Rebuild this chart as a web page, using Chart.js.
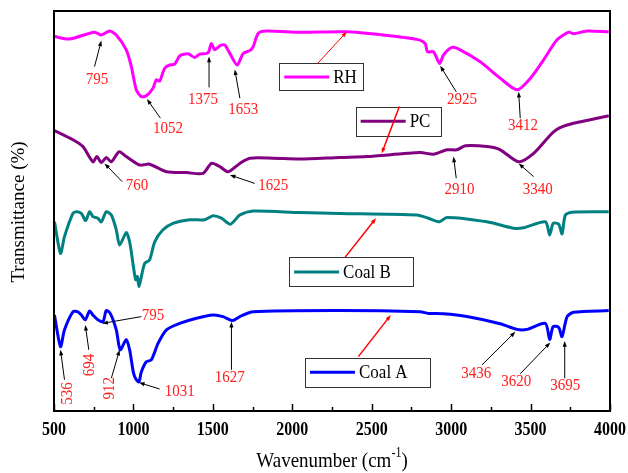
<!DOCTYPE html>
<html>
<head>
<meta charset="utf-8">
<script src="https://cdn.jsdelivr.net/npm/chart.js@4/dist/chart.umd.min.js"></script>
<style>
  html, body { margin: 0; padding: 0; background: #fff; }
  canvas { display: block; }
</style>
</head>
<body>
<canvas id="ftir" width="628" height="473"></canvas>
<script>
// FTIR spectra, wavenumber (cm-1) vs. transmittance (offset, arbitrary %)
const rhWave = [503, 598, 755, 798, 850, 892, 955, 987, 1018, 1050, 1081, 1123, 1144, 1165, 1197, 1228, 1260, 1292, 1344, 1386, 1418, 1460, 1474, 1491, 1512, 1544, 1575, 1607, 1653, 1691, 1733, 1754, 1785, 1838, 2048, 2343, 2573, 2784, 2836, 2851, 2889, 2927, 2952, 3005, 3057, 3183, 3309, 3415, 3499, 3582, 3667, 3740, 3772, 3856, 3992];
const rhT    = [93.6, 93.0, 94.7, 94.0, 95.0, 94.0, 90.3, 86.1, 80.3, 78.6, 78.8, 80.7, 82.8, 82.5, 85.7, 86.5, 86.7, 88.8, 89.3, 88.4, 89.2, 89.4, 89.8, 91.9, 90.3, 91.3, 91.5, 89.4, 86.5, 89.4, 90.1, 91.1, 94.4, 95.0, 94.7, 94.8, 94.0, 92.9, 91.9, 89.8, 89.8, 86.9, 89.0, 90.9, 90.3, 87.3, 83.2, 80.3, 83.2, 87.8, 92.8, 94.7, 94.3, 95.0, 94.8];

const pcWave = [503, 619, 682, 745, 770, 798, 829, 861, 909, 955, 1039, 1102, 1208, 1334, 1438, 1491, 1544, 1596, 1670, 1733, 1880, 2048, 2300, 2469, 2805, 2889, 2973, 3036, 3089, 3225, 3309, 3425, 3519, 3645, 3730, 3992];
const pcT    = [70.1, 67.8, 66.1, 62.3, 63.6, 62.1, 63.4, 62.3, 64.8, 63.6, 61.5, 61.7, 59.8, 59.6, 59.4, 61.9, 61.1, 59.8, 61.9, 63.2, 63.2, 63.0, 63.4, 63.6, 64.6, 64.2, 65.3, 65.3, 66.3, 66.1, 65.3, 62.3, 64.4, 69.8, 71.5, 73.8];

const coalBWave = [503, 541, 566, 619, 640, 672, 699, 724, 745, 776, 798, 829, 861, 892, 913, 955, 976, 997, 1014, 1025, 1035, 1050, 1071, 1102, 1134, 1186, 1249, 1354, 1449, 1501, 1554, 1611, 1670, 1754, 2048, 2300, 2784, 2857, 2927, 2973, 3225, 3393, 3456, 3593, 3620, 3642, 3677, 3698, 3719, 3761, 3992];
const coalBT    = [47.3, 39.4, 43.6, 49.4, 49.8, 49.4, 47.6, 49.8, 48.6, 48.2, 47.3, 49.8, 49.0, 45.3, 41.5, 44.6, 42.3, 36.9, 32.8, 33.6, 31.1, 33.6, 36.9, 37.8, 42.3, 45.3, 46.9, 47.8, 47.8, 48.8, 48.2, 46.7, 49.0, 50.0, 49.6, 49.4, 49.0, 48.2, 47.3, 48.4, 47.3, 45.7, 45.8, 47.3, 44.0, 46.9, 46.7, 44.3, 49.0, 49.7, 49.8];

const coalAWave = [503, 541, 566, 619, 650, 672, 697, 724, 745, 776, 808, 829, 854, 892, 917, 955, 976, 1001, 1018, 1035, 1050, 1081, 1113, 1155, 1208, 1291, 1397, 1501, 1564, 1624, 1670, 1754, 2300, 2805, 2857, 2952, 3099, 3309, 3415, 3478, 3593, 3620, 3642, 3677, 3698, 3730, 3772, 3992];
const coalAT    = [24.0, 16.1, 20.3, 24.8, 24.8, 24.0, 22.8, 25.0, 24.0, 22.8, 22.3, 25.1, 24.4, 20.3, 15.3, 17.9, 15.3, 9.4, 7.8, 7.3, 9.8, 12.3, 12.8, 16.9, 20.3, 21.9, 23.2, 24.0, 23.6, 22.6, 23.6, 24.8, 25.1, 24.8, 24.4, 24.3, 23.6, 21.8, 20.4, 20.4, 21.9, 17.9, 21.1, 20.9, 18.6, 23.6, 24.7, 25.1];

const xTicks = [500, 1000, 1500, 2000, 2500, 3000, 3500, 4000];

const seriesNames  = ['RH', 'PC', 'Coal B', 'Coal A'];
const seriesColors = ['#ff00ff', '#800080', '#008080', '#0000ff'];

// legend boxes: [left wn, top T, right wn, bottom T], connector [from wn, T, to wn, T]
const legendBoxes = [
  { box: [1918, 86.9, 2448, 80.1], link: [2162, 87.0, 2343, 94.8], lw: 1 },
  { box: [2399, 76.1, 2931, 68.8], link: [2674, 76.1, 2563, 64.4], lw: 1.5 },
  { box: [1980, 38.4, 2763, 31.1], link: [2332, 38.4, 2527, 48.2], lw: 1.5 },
  { box: [2080, 13.3, 2868, 6.1],  link: [2416, 13.6, 2620, 24.0], lw: 1.5 }
];

// peak labels: text, label position, arrow start, arrow tip, rotated?
const peakLabels = [
  ['795',  770, 83.0,  755, 86.1,  798, 92.6],
  ['1052', 1218, 70.7, 1170, 73.2, 1085, 78.0],
  ['1375', 1438, 78.0, 1476, 80.9, 1476, 88.6],
  ['1653', 1691, 75.4, 1670, 78.2, 1638, 85.4],
  ['2925', 3068, 78.0, 3032, 79.8, 2931, 86.3],
  ['3412', 3452, 71.3, 3435, 73.2, 3425, 79.8],
  ['760',  1022, 56.5, 930, 57.3,  818, 61.9],
  ['1625', 1880, 56.5, 1764, 56.9, 1607, 59.0],
  ['2910', 3053, 55.3, 3032, 58.2, 3015, 63.6],
  ['3340', 3545, 55.3, 3519, 58.6, 3425, 61.9],
  ['536',  587, 4.4,   566, 7.8,   541, 15.3, true],
  ['694',  724, 11.5,  719, 15.3,  697, 21.5, true],
  ['912',  850, 5.7,   861, 8.2,   913, 15.3, true],
  ['795',  1123, 24.0, 1050, 23.6, 804, 21.9],
  ['1031', 1291, 4.8,  1165, 5.5,  1035, 7.1],
  ['1627', 1607, 8.3,  1617, 10.3, 1617, 22.3],
  ['3436', 3158, 9.4,  3194, 11.5, 3404, 19.8],
  ['3620', 3410, 7.3,  3435, 9.3,  3624, 17.1],
  ['3695', 3719, 6.5,  3715, 8.2,  3715, 17.5]
];

const SERIF = "'Liberation Serif', 'Times New Roman', serif";
const STRETCH = 1.15;   // glyphs in the figure are drawn a little tall

function toPoints(xs, ys) {
  return xs.map((x, i) => ({ x: x, y: ys[i] }));
}

const waves = [rhWave, pcWave, coalBWave, coalAWave];
const trans = [rhT, pcT, coalBT, coalAT];

function arrow(ctx, x1, y1, x2, y2, color, width, head) {
  const a = Math.atan2(y2 - y1, x2 - x1);
  ctx.strokeStyle = color;
  ctx.fillStyle = color;
  ctx.lineWidth = width;
  ctx.beginPath();
  ctx.moveTo(x1, y1);
  ctx.lineTo(x2 - Math.cos(a) * head * 0.6, y2 - Math.sin(a) * head * 0.6);
  ctx.stroke();
  ctx.beginPath();
  ctx.moveTo(x2, y2);
  ctx.lineTo(x2 - head * Math.cos(a - 0.35), y2 - head * Math.sin(a - 0.35));
  ctx.lineTo(x2 - head * Math.cos(a + 0.35), y2 - head * Math.sin(a + 0.35));
  ctx.closePath();
  ctx.fill();
}

// text centred on (x, y), optionally turned -90deg, stretched along its height
function label(ctx, text, x, y, font, color, rot, align) {
  ctx.save();
  ctx.translate(x, y);
  if (rot) {
    ctx.rotate(-Math.PI / 2);
    ctx.scale(1, STRETCH);
  } else {
    ctx.scale(1, STRETCH);
  }
  ctx.font = font;
  ctx.fillStyle = color;
  ctx.textAlign = align || 'center';
  ctx.textBaseline = 'middle';
  ctx.fillText(text, 0, 0);
  ctx.restore();
}

const decorations = {
  id: 'decorations',
  afterDraw(chart) {
    const ctx = chart.ctx;
    const xs = chart.scales.x, ys = chart.scales.y;
    const area = chart.chartArea;
    const px = v => xs.getPixelForValue(v);
    const py = v => ys.getPixelForValue(v);
    ctx.save();

    // frame
    ctx.strokeStyle = '#000';
    ctx.lineWidth = 2;
    ctx.strokeRect(area.left, area.top, area.right - area.left, area.bottom - area.top);

    // inward ticks on the bottom axis
    ctx.lineWidth = 1.5;
    for (let w = 500; w <= 4000; w += 250) {
      const x = Math.round(px(w)) + 0.5;
      const len = w % 500 === 0 ? 7 : 4;
      ctx.beginPath();
      ctx.moveTo(x, area.bottom);
      ctx.lineTo(x, area.bottom - len);
      ctx.stroke();
    }
    xTicks.forEach(v => {
      label(ctx, String(v), px(v), area.bottom + 19, 'bold 16px ' + SERIF, '#000');
    });

    // axis titles
    ctx.save();
    ctx.translate(19, (area.top + area.bottom) / 2 + 1);
    ctx.rotate(-Math.PI / 2);
    ctx.font = '19px ' + SERIF;
    ctx.fillStyle = '#000';
    ctx.textAlign = 'center';
    ctx.textBaseline = 'middle';
    ctx.fillText('Transmittance (%)', 0, 0);
    ctx.restore();

    ctx.font = '19px ' + SERIF;
    const main = 'Wavenumber (cm', sup = '-1', tail = ')';
    const wMain = ctx.measureText(main).width;
    const wTail = ctx.measureText(tail).width;
    ctx.font = '12px ' + SERIF;
    const wSup = ctx.measureText(sup).width;
    let tx = (area.left + area.right) / 2 - (wMain + wSup + wTail) / 2;
    const ty = 461;
    label(ctx, main, tx, ty, '19px ' + SERIF, '#000', false, 'left');
    tx += wMain;
    label(ctx, sup, tx, ty - 8, '12px ' + SERIF, '#000', false, 'left');
    tx += wSup;
    label(ctx, tail, tx, ty, '19px ' + SERIF, '#000', false, 'left');

    // legend boxes with connectors
    legendBoxes.forEach((lb, i) => {
      const [l, t, r, b] = lb.box;
      const x0 = px(l), y0 = py(t), x1 = px(r), y1 = py(b);
      ctx.fillStyle = '#fff';
      ctx.fillRect(x0, y0, x1 - x0, y1 - y0);
      ctx.strokeStyle = '#333';
      ctx.lineWidth = 1;
      ctx.strokeRect(Math.round(x0) + 0.5, Math.round(y0) + 0.5, Math.round(x1 - x0), Math.round(y1 - y0));
      const cy = (y0 + y1) / 2;
      ctx.strokeStyle = seriesColors[i];
      ctx.lineWidth = 3;
      ctx.beginPath();
      ctx.moveTo(x0 + 5, cy);
      ctx.lineTo(x0 + 50, cy);
      ctx.stroke();
      label(ctx, seriesNames[i], x0 + 54, cy + 1, '17px ' + SERIF, '#000', false, 'left');
      const [fw, ft, tw, tt] = lb.link;
      arrow(ctx, px(fw), py(ft), px(tw), py(tt), '#ff0000', lb.lw, 6);
    });

    // peak positions
    peakLabels.forEach(p => {
      const [text, lw, lt, fw, ft, tw, tt, rot] = p;
      arrow(ctx, px(fw), py(ft), px(tw), py(tt), '#000', 1, 6);
      label(ctx, text, px(lw), py(lt), '15px ' + SERIF, '#ff2020', rot);
    });

    ctx.restore();
  }
};

new Chart(document.getElementById('ftir'), {
  type: 'line',
  data: {
    datasets: seriesNames.map((name, i) => ({
      label: name,
      data: toPoints(waves[i], trans[i]),
      borderColor: seriesColors[i],
      borderWidth: 3,
      pointRadius: 0,
      tension: 0.25,
      fill: false
    }))
  },
  options: {
    responsive: false,
    animation: false,
    layout: { padding: { left: 54, right: 18, top: 11, bottom: 62 } },
    plugins: { legend: { display: false }, tooltip: { enabled: false } },
    scales: {
      x: { type: 'linear', display: false, min: 500, max: 4000 },
      y: { display: false, min: 0, max: 100 }
    }
  },
  plugins: [decorations]
});
</script>
</body>
</html>
